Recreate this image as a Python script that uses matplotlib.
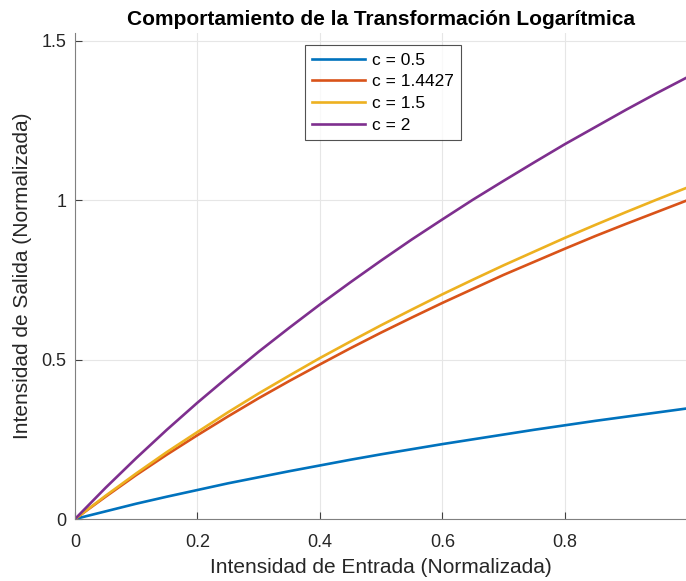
import matplotlib
matplotlib.use("Agg")
import matplotlib.pyplot as plt

# Input intensity samples (normalized)
r = [0.00, 0.05, 0.10, 0.15, 0.20, 0.25, 0.30, 0.35, 0.40, 0.45, 0.50,
     0.55, 0.60, 0.65, 0.70, 0.75, 0.80, 0.85, 0.90, 0.95, 1.00]

# Output intensity for each constant c
s_c05 = [0.000, 0.024, 0.048, 0.070, 0.091, 0.112, 0.131, 0.150, 0.168, 0.186, 0.203,
         0.219, 0.235, 0.250, 0.265, 0.280, 0.294, 0.308, 0.321, 0.334, 0.347]
s_c14427 = [0.000, 0.070, 0.138, 0.202, 0.263, 0.322, 0.379, 0.433, 0.485, 0.536, 0.585,
            0.632, 0.678, 0.722, 0.766, 0.807, 0.848, 0.888, 0.926, 0.963, 1.000]
s_c15 = [0.000, 0.073, 0.143, 0.210, 0.273, 0.335, 0.394, 0.450, 0.505, 0.557, 0.608,
         0.657, 0.705, 0.751, 0.796, 0.839, 0.882, 0.923, 0.963, 1.002, 1.040]
s_c2 = [0.000, 0.098, 0.191, 0.280, 0.365, 0.446, 0.525, 0.600, 0.673, 0.743, 0.811,
        0.877, 0.940, 1.002, 1.061, 1.119, 1.176, 1.230, 1.284, 1.336, 1.386]

labels = ["c = 0.5", "c = 1.4427", "c = 1.5", "c = 2"]
colors = ["#0072BD", "#D95319", "#EDB120", "#7E2F8E"]

plt.rcParams['font.family'] = ['Liberation Sans', 'DejaVu Sans']

fig = plt.figure(figsize=(6.86, 5.81), dpi=100)
ax = fig.add_axes([0.1093, 0.1067, 0.8925, 0.8365])

for s, lab, col in zip([s_c05, s_c14427, s_c15, s_c2], labels, colors):
    ax.plot(r, s, color=col, lw=1.9, label=lab)

ax.set_xlim(0, 1.0)
ax.set_ylim(0, 1.525)
ax.set_xticks([0, 0.2, 0.4, 0.6, 0.8])
ax.set_xticklabels(["0", "0.2", "0.4", "0.6", "0.8"])
ax.set_yticks([0, 0.5, 1, 1.5])
ax.set_yticklabels(["0", "0.5", "1", "1.5"])

ax.grid(True, color="#e6e6e6", lw=0.8)
ax.set_axisbelow(True)
for side in ["top", "right"]:
    ax.spines[side].set_visible(False)
for side in ["left", "bottom"]:
    ax.spines[side].set_color("#808080")
    ax.spines[side].set_linewidth(0.8)
ax.tick_params(direction="in", length=5, width=0.8, color="#404040",
               labelsize=13, labelcolor="#262626")
ax.tick_params(axis="x", pad=10.5)
ax.tick_params(axis="y", pad=6)

ax.set_xlabel("Intensidad de Entrada (Normalizada)", fontsize=15, color="#262626", labelpad=5)
ax.set_ylabel("Intensidad de Salida (Normalizada)", fontsize=15, color="#262626", labelpad=7)
ax.set_title("Comportamiento de la Transformación Logarítmica", fontsize=15,
             fontweight="bold", color="black", pad=6)

leg = ax.legend(loc="upper left", bbox_to_anchor=(0.376, 0.975), fontsize=12.5,
                handlelength=3.0, frameon=True, fancybox=False, borderpad=0.42,
                labelspacing=0.38, handletextpad=0.4, borderaxespad=0)
leg.get_frame().set_edgecolor("#262626")
leg.get_frame().set_linewidth(0.8)

fig.savefig("out.png", dpi=100)
